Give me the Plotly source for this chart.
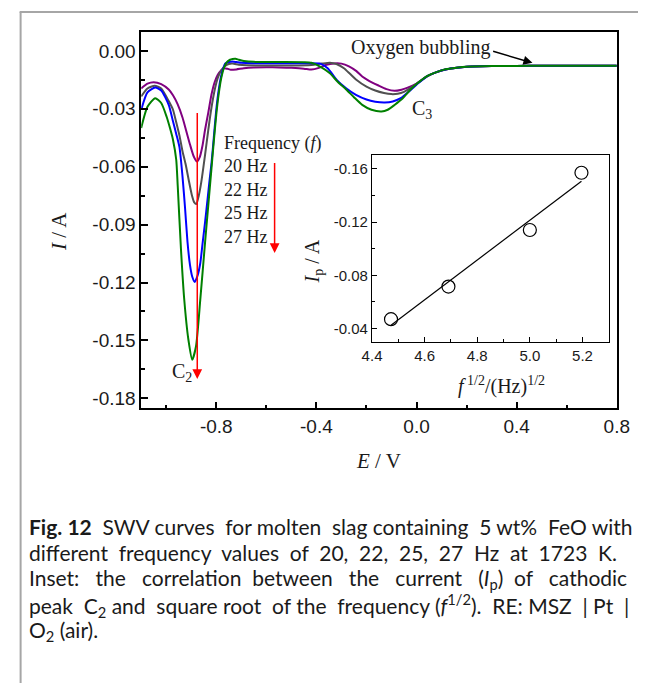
import numpy as np
import plotly.graph_objects as go

# ---------------- data ----------------
freq_labels = ["20 Hz", "22 Hz", "25 Hz", "27 Hz"]
series_colors = ["#800080", "#505050", "#0000ff", "#008000"]

E_20 = [-1.10, -1.075, -1.05, -1.02, -0.99, -0.973, -0.955, -0.935, -0.92, -0.905, -0.89, -0.877, -0.866, -0.855,
        -0.845, -0.832, -0.819, -0.806, -0.794, -0.78, -0.768, -0.755, -0.742, -0.72, -0.69, -0.65, -0.6, -0.55,
        -0.5, -0.45, -0.42, -0.39, -0.36, -0.33, -0.30, -0.27, -0.24, -0.217, -0.19, -0.154, -0.12, -0.088, -0.06,
        -0.038, 0.0, 0.04, 0.08, 0.12, 0.16, 0.2, 0.3, 0.4, 0.5, 0.6, 0.7, 0.8]
I_20 = [-0.0195, -0.0170, -0.0162, -0.0172, -0.0200, -0.0230, -0.0275, -0.0345, -0.0415, -0.0485, -0.0547, -0.0573,
        -0.0550, -0.0490, -0.0410, -0.0320, -0.0225, -0.0160, -0.0124, -0.0100, -0.0090, -0.0093, -0.0098, -0.0096,
        -0.0090, -0.0086, -0.0085, -0.0086, -0.0088, -0.0092, -0.0097, -0.0088, -0.0072, -0.0065, -0.0066, -0.0080,
        -0.0105, -0.0133, -0.0155, -0.0178, -0.0198, -0.0207, -0.0201, -0.0192, -0.0170, -0.0133, -0.0110, -0.0095,
        -0.0087, -0.0082, -0.0079, -0.0078, -0.0077, -0.0077, -0.0077, -0.0077]

E_22 = [-1.10, -1.075, -1.046, -1.02, -0.99, -0.973, -0.96, -0.947, -0.935, -0.922, -0.91, -0.898, -0.888, -0.8795,
        -0.87, -0.86, -0.845, -0.832, -0.82, -0.806, -0.794, -0.78, -0.765, -0.75, -0.735, -0.71, -0.68, -0.6, -0.5,
        -0.42, -0.38, -0.346, -0.32, -0.29, -0.265, -0.242, -0.2, -0.165, -0.13, -0.101, -0.075, -0.05, -0.025, 0.0,
        0.04, 0.08, 0.12, 0.16, 0.2, 0.3, 0.4, 0.5, 0.6, 0.7, 0.8]
I_22 = [-0.0236, -0.0195, -0.0181, -0.0195, -0.0260, -0.0305, -0.0370, -0.0440, -0.0520, -0.0590, -0.0670, -0.0745,
        -0.0785, -0.0793, -0.0750, -0.0680, -0.0540, -0.0410, -0.0300, -0.0200, -0.0140, -0.0100, -0.0078, -0.0068,
        -0.0066, -0.0072, -0.0075, -0.0076, -0.0076, -0.0073, -0.0066, -0.0061, -0.0068, -0.0090, -0.0120, -0.0148,
        -0.0185, -0.0205, -0.0218, -0.0224, -0.0222, -0.0212, -0.0193, -0.0170, -0.0133, -0.0110, -0.0095, -0.0087,
        -0.0082, -0.0079, -0.0078, -0.0077, -0.0077, -0.0077, -0.0077]

E_25 = [-1.10, -1.075, -1.044, -1.02, -0.99, -0.973, -0.96, -0.947, -0.935, -0.925, -0.915, -0.905, -0.896, -0.886,
        -0.875, -0.864, -0.855, -0.845, -0.835, -0.826, -0.819, -0.81, -0.80, -0.79, -0.781, -0.772, -0.765, -0.75,
        -0.736, -0.72, -0.70, -0.65, -0.55, -0.45, -0.385, -0.355, -0.319, -0.28, -0.242, -0.2, -0.165, -0.127,
        -0.095, -0.063, -0.03, 0.0, 0.04, 0.08, 0.12, 0.16, 0.2, 0.3, 0.4, 0.5, 0.6, 0.7, 0.8]
I_25 = [-0.0305, -0.0215, -0.0190, -0.0205, -0.0280, -0.0365, -0.0430, -0.0500, -0.0650, -0.0810, -0.0990, -0.1110,
        -0.1170, -0.1197, -0.1165, -0.1100, -0.1000, -0.0890, -0.0770, -0.0660, -0.0580, -0.0450, -0.0305, -0.0200,
        -0.0133, -0.0090, -0.0066, -0.0058, -0.0055, -0.0058, -0.0062, -0.0064, -0.0064, -0.0064, -0.0066, -0.0090,
        -0.0150, -0.0195, -0.0228, -0.0252, -0.0263, -0.0267, -0.0262, -0.0245, -0.0210, -0.0175, -0.0133, -0.0110,
        -0.0095, -0.0087, -0.0082, -0.0079, -0.0078, -0.0077, -0.0077, -0.0077, -0.0077]

E_27 = [-1.10, -1.075, -1.044, -1.02, -0.9987, -0.985, -0.973, -0.96, -0.954, -0.941, -0.928, -0.9115, -0.896, -0.881,
        -0.864, -0.845, -0.832, -0.82, -0.81, -0.80, -0.79, -0.78, -0.77, -0.76, -0.745, -0.735, -0.723, -0.71, -0.69,
        -0.65, -0.55, -0.45, -0.42, -0.38, -0.346, -0.315, -0.281, -0.25, -0.217, -0.18, -0.14, -0.115, -0.088,
        -0.055, -0.024, 0.0, 0.039, 0.08, 0.116, 0.16, 0.2, 0.3, 0.4, 0.5, 0.6, 0.7, 0.8]
I_27 = [-0.0400, -0.0290, -0.0245, -0.0270, -0.0340, -0.0400, -0.0460, -0.0564, -0.0700, -0.1030, -0.1288, -0.1495,
        -0.1600, -0.1530, -0.1290, -0.0995, -0.0800, -0.0620, -0.0470, -0.0330, -0.0220, -0.0140, -0.0090, -0.0062,
        -0.0046, -0.0042, -0.0041, -0.0046, -0.0052, -0.0057, -0.0058, -0.0059, -0.0062, -0.0085, -0.0116, -0.0160,
        -0.0200, -0.0240, -0.0280, -0.0305, -0.0314, -0.0305, -0.0280, -0.0245, -0.0200, -0.0172, -0.0133, -0.0110,
        -0.0095, -0.0087, -0.0082, -0.0079, -0.0078, -0.0077, -0.0077, -0.0077, -0.0077]

# inset
frequency_hz = [20, 22, 25, 27]
peak_current = [-0.047, -0.0715, -0.114, -0.157]

# tick labels
main_x_ticks = [-0.8, -0.4, 0.0, 0.4, 0.8]
main_x_labels = ["-0.8", "-0.4", "0.0", "0.4", "0.8"]
main_x_minor = [-1.0, -0.6, -0.2, 0.2, 0.6]
main_y_ticks = [0.0, -0.03, -0.06, -0.09, -0.12, -0.15, -0.18]
main_y_labels = ["0.00", "-0.03", "-0.06", "-0.09", "-0.12", "-0.15", "-0.18"]
main_y_minor = [-0.015, -0.045, -0.075, -0.105, -0.135, -0.165]
inset_x_ticks = [4.4, 4.6, 4.8, 5.0, 5.2]
inset_x_labels = ["4.4", "4.6", "4.8", "5.0", "5.2"]
inset_x_minor = [4.5, 4.7, 4.9, 5.1, 5.3]
inset_y_ticks = [-0.04, -0.08, -0.12, -0.16]
inset_y_labels = ["-0.04", "-0.08", "-0.12", "-0.16"]
inset_y_minor = [-0.06, -0.10, -0.14]

caption_lines = [
    "<b>Fig. 12</b> SWV curves for molten slag containing 5 wt% FeO with",
    "different frequency values of 20, 22, 25, 27 Hz at 1723 K.",
    "Inset: the correlation between the current (<i>I</i><sub>p</sub>) of cathodic",
    "peak C<sub>2</sub> and square root of the frequency (<i>f</i><sup>1/2</sup>). RE: MSZ | Pt |",
    "O<sub>2</sub> (air).",
]
# extra spaces inserted per word gap (cycled) to imitate the justified caption
caption_extra = [[0, 1], [1], [2, 2, 1, 2, 2, 2, 1, 2], [1, 0], [0]]

# ---------------- figure ----------------
W, H = 651, 684
SANS = "Liberation Sans, Arial, sans-serif"
SERIF = "Liberation Serif, Times New Roman, serif"
TXT = "#1a1a1a"

fig = go.Figure()
for xs, ys, col in zip([E_20, E_22, E_25, E_27], [I_20, I_22, I_25, I_27], series_colors):
    fig.add_trace(go.Scatter(x=xs, y=ys, mode="lines", line=dict(color=col, width=2, shape="spline", smoothing=0.6),
                             xaxis="x", yaxis="y", hoverinfo="skip"))

sqrt_f = np.sqrt(np.array(frequency_hz, dtype=float))
slope, intercept = np.polyfit(sqrt_f, np.array(peak_current), 1)
fit_x = np.array([sqrt_f[0], sqrt_f[-1]])
fig.add_trace(go.Scatter(x=fit_x, y=slope * fit_x + intercept, mode="lines", line=dict(color="black", width=1.2),
                         xaxis="x2", yaxis="y2", hoverinfo="skip"))
fig.add_trace(go.Scatter(x=sqrt_f, y=peak_current, mode="markers",
                         marker=dict(symbol="circle-open", size=13, color="black", line=dict(width=1.2)),
                         xaxis="x2", yaxis="y2", hoverinfo="skip"))


def px_x(p):
    return p / W


def px_y(p):
    return 1 - p / H


axis_common = dict(showgrid=False, zeroline=False, showline=True, linecolor="black", mirror=True,
                   ticks="inside", tickcolor="black", tickmode="array")

fig.update_layout(
    width=W, height=H, margin=dict(l=0, r=0, t=0, b=0),
    paper_bgcolor="white", plot_bgcolor="white", showlegend=False,
    xaxis=dict(domain=[px_x(136), px_x(629)], range=[-1.1, 0.8], anchor="y",
               tickvals=main_x_ticks, ticktext=main_x_labels, ticklen=7, tickwidth=1.5, linewidth=1.5,
               minor=dict(tickvals=main_x_minor, ticks="inside", ticklen=4, tickwidth=1.5, tickcolor="black"),
               tickfont=dict(family=SANS, size=19, color=TXT), **axis_common),
    yaxis=dict(domain=[px_y(409), px_y(32)], range=[-0.1852, 0.0098], anchor="x",
               tickvals=main_y_ticks, ticktext=main_y_labels, ticklen=7, tickwidth=1.5, linewidth=1.5,
               minor=dict(tickvals=main_y_minor, ticks="inside", ticklen=4, tickwidth=1.5, tickcolor="black"),
               tickfont=dict(family=SANS, size=19, color=TXT), **axis_common),
    xaxis2=dict(domain=[px_x(375.3), px_x(620.7)], range=[4.4, 5.3], anchor="y2",
                tickvals=inset_x_ticks, ticktext=inset_x_labels, ticklen=5, tickwidth=1.2, linewidth=1.2,
                minor=dict(tickvals=inset_x_minor, ticks="inside", ticklen=3, tickwidth=1.2, tickcolor="black"),
                tickfont=dict(family=SANS, size=15, color=TXT), **axis_common),
    yaxis2=dict(domain=[px_y(342.3), px_y(155.7)], range=[-0.03, -0.17], anchor="x2",
                tickvals=inset_y_ticks, ticktext=inset_y_labels, ticklen=5, tickwidth=1.2, linewidth=1.2,
                minor=dict(tickvals=inset_y_minor, ticks="inside", ticklen=3, tickwidth=1.2, tickcolor="black"),
                tickfont=dict(family=SANS, size=15, color=TXT), **axis_common),
)

shapes = [
    dict(type="line", xref="paper", yref="paper", x0=px_x(11), x1=px_x(11), y0=0, y1=px_y(12),
         line=dict(color="#a6a6a6", width=2)),
    dict(type="line", xref="paper", yref="paper", x0=px_x(10), x1=1, y0=px_y(12), y1=px_y(12),
         line=dict(color="#a6a6a6", width=2)),
]
fig.update_layout(shapes=shapes)

ann = []
# axis titles (explicit anchors so the paper-referenced boxes are centred)
ann.append(dict(xref="paper", yref="paper", x=px_x(50), y=px_y(232), text="<i>I</i> / A", textangle=-90,
                xanchor="center", yanchor="middle",
                showarrow=False, font=dict(family=SERIF, size=21, color=TXT)))
ann.append(dict(xref="paper", yref="paper", x=px_x(382), y=px_y(462), text="<i>E</i> / V",
                xanchor="center", yanchor="middle",
                showarrow=False, font=dict(family=SERIF, size=21, color=TXT)))
ann.append(dict(xref="paper", yref="paper", x=px_x(315), y=px_y(262), text="<i>I</i><sub>p</sub> / A", textangle=-90,
                xanchor="center", yanchor="middle",
                showarrow=False, font=dict(family=SERIF, size=20, color=TXT)))
ann.append(dict(xref="paper", yref="paper", x=px_x(510), y=px_y(386),
                text="<i>f</i><sup> 1/2</sup>/(Hz)<sup>1/2</sup>", xanchor="center", yanchor="middle",
                showarrow=False, font=dict(family=SERIF, size=20, color=TXT)))
# frequency block
freq_y = [-0.0598, -0.0719, -0.0840, -0.0962]
ann.append(dict(xref="x", yref="y", x=-0.777, y=-0.0478, text="Frequency (<i>f</i>)", xanchor="left",
                yanchor="middle", showarrow=False, font=dict(family=SERIF, size=18, color=TXT)))
for lab, yv in zip(freq_labels, freq_y):
    ann.append(dict(xref="x", yref="y", x=-0.777, y=yv, text=lab, xanchor="left", yanchor="middle",
                    showarrow=False, font=dict(family=SERIF, size=18, color=TXT)))
# peak labels
ann.append(dict(xref="x", yref="y", x=-0.985, y=-0.1665, text="C<sub>2</sub>", xanchor="left", yanchor="middle",
                showarrow=False, font=dict(family=SERIF, size=20, color=TXT)))
ann.append(dict(xref="x", yref="y", x=-0.028, y=-0.0305, text="C<sub>3</sub>", xanchor="left", yanchor="middle",
                showarrow=False, font=dict(family=SERIF, size=20, color=TXT)))
ann.append(dict(xref="x", yref="y", x=0.300, y=0.0015, text="Oxygen bubbling", xanchor="right", yanchor="middle",
                showarrow=False, font=dict(family=SERIF, size=20, color=TXT)))
# arrows
ann.append(dict(xref="x", yref="y", axref="x", ayref="y", x=-0.876, y=-0.170, ax=-0.876, ay=-0.0314,
                text="", showarrow=True, arrowhead=2, arrowsize=1.3, arrowwidth=1.5, arrowcolor="red"))
ann.append(dict(xref="x", yref="y", axref="x", ayref="y", x=-0.567, y=-0.1047, ax=-0.567, ay=-0.0573,
                text="", showarrow=True, arrowhead=2, arrowsize=1.3, arrowwidth=1.5, arrowcolor="red"))
ann.append(dict(xref="x", yref="y", axref="x", ayref="y", x=0.463, y=-0.0062, ax=0.300, ay=0.0,
                text="", showarrow=True, arrowhead=2, arrowsize=1.2, arrowwidth=1.5, arrowcolor="black"))


def justify(line, extras):
    # caption line with widened word gaps (words separated by single spaces in the source line)
    parts = line.split(" ")
    out = parts[0]
    for k, w in enumerate(parts[1:]):
        out += " " * (1 + extras[k % len(extras)]) + w
    return out


# caption
cap_y = [527, 553, 580, 606, 632]
for line, extras, yy in zip(caption_lines, caption_extra, cap_y):
    ann.append(dict(xref="paper", yref="paper", x=px_x(18), y=px_y(yy), text=justify(line, extras),
                    xanchor="left", yanchor="middle", showarrow=False,
                    font=dict(family="Lato, Open Sans, sans-serif", size=21, color=TXT)))
fig.update_layout(annotations=ann)

fig.write_html("out.html")
